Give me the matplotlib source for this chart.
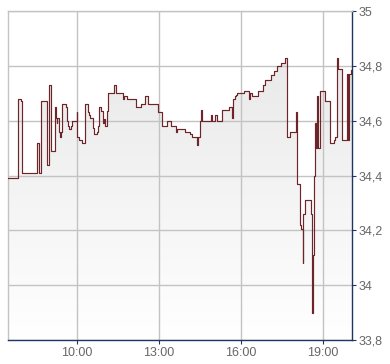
import numpy as np
import matplotlib
matplotlib.use("Agg")
import matplotlib.pyplot as plt
from matplotlib.colors import LinearSegmentedColormap

# ---- data (step series: time "HH:MM", price) ----
times = ["07:28", "07:51", "07:58", "08:00", "08:33", "08:36", "08:41", "08:55", "08:58", "09:03",
         "09:12", "09:14", "09:15", "09:17", "09:21", "09:22", "09:25", "09:27", "09:36", "09:39",
         "09:41", "09:42", "09:47", "09:50", "09:59", "10:01", "10:05", "10:10", "10:18", "10:25",
         "10:26", "10:28", "10:34", "10:37", "10:43", "10:45", "10:48", "10:52", "10:56", "10:59",
         "11:01", "11:05", "11:09", "11:21", "11:26", "11:40", "11:43", "11:50", "12:09", "12:20",
         "12:29", "12:36", "12:57", "13:07", "13:17", "13:26", "13:37", "13:40", "13:57", "14:08",
         "14:13", "14:23", "14:26", "14:29", "14:33", "14:35", "14:53", "14:56", "15:02", "15:08",
         "15:18", "15:34", "15:40", "15:43", "15:46", "15:48", "15:51", "16:07", "16:18", "16:20",
         "16:24", "16:38", "16:48", "16:53", "17:06", "17:12", "17:19", "17:28", "17:36", "17:40",
         "17:47", "18:01", "18:03", "18:09", "18:11", "18:15", "18:17", "18:20", "18:33", "18:35",
         "18:37", "18:39", "18:40", "18:41", "18:42", "18:43", "18:45", "18:47", "18:49", "18:53",
         "19:04", "19:15", "19:24", "19:26", "19:31", "19:33", "19:42", "19:53", "19:55", "19:57",
         "20:01", "20:04"]
prices = [34.39, 34.68, 34.67, 34.41, 34.52, 34.41, 34.67, 34.44, 34.73, 34.49,
          34.65, 34.61, 34.59, 34.61, 34.56, 34.54, 34.56, 34.66, 34.65, 34.60,
          34.58, 34.57, 34.58, 34.60, 34.63, 34.54, 34.53, 34.52, 34.66, 34.63,
          34.62, 34.61, 34.575, 34.55, 34.56, 34.58, 34.65, 34.635, 34.59, 34.605,
          34.58, 34.635, 34.70, 34.73, 34.70, 34.68, 34.69, 34.68, 34.65, 34.66,
          34.69, 34.66, 34.63, 34.58, 34.60, 34.58, 34.56, 34.57, 34.56, 34.55,
          34.54, 34.51, 34.54, 34.60, 34.64, 34.60, 34.62, 34.60, 34.62, 34.60,
          34.64, 34.65, 34.61, 34.68, 34.69, 34.695, 34.70, 34.71, 34.68, 34.70,
          34.69, 34.71, 34.73, 34.75, 34.765, 34.78, 34.80, 34.81, 34.83, 34.54,
          34.56, 34.63, 34.37, 34.22, 34.205, 34.08, 34.26, 34.31, 34.26, 33.90,
          34.015, 34.11, 34.34, 34.40, 34.53, 34.59, 34.50, 34.69, 34.50, 34.71,
          34.67, 34.52, 34.53, 34.54, 34.83, 34.79, 34.53, 34.77, 34.53, 34.77,
          34.785, 34.785]

x_ticks = [10, 13, 16, 19]
x_tick_labels = ["10:00", "13:00", "16:00", "19:00"]
y_ticks = [33.8, 34.0, 34.2, 34.4, 34.6, 34.8, 35.0]
y_tick_labels = ["33,8", "34", "34,2", "34,4", "34,6", "34,8", "35"]

def to_hours(s):
    h, m = s.split(":")
    return int(h) + int(m) / 60.0

t = np.array([to_hours(s) for s in times])
v = np.array(prices)

plt.rcParams['font.family'] = ['Liberation Sans', 'DejaVu Sans']

fig = plt.figure(figsize=(3.9, 3.64), dpi=100)
ax = fig.add_axes([8/390, 24/364, 344/390, 329/364])

xmin, xmax = 7.475, 20.06
ymin, ymax = 33.8, 35.0
ax.set_xlim(xmin, xmax)
ax.set_ylim(ymin, ymax)

# gradient fill under the line
poly = ax.fill_between(t, v, ymin, step='post', facecolor='none', edgecolor='none')
cmap = LinearSegmentedColormap.from_list('g', ['#ffffff', '#e6e6e6'])
grad = np.linspace(0, 1, 256).reshape(-1, 1)
im = ax.imshow(grad, extent=[xmin, xmax, ymin, ymax], aspect='auto', cmap=cmap,
               origin='lower', zorder=1, interpolation='bilinear')
im.set_clip_path(poly.get_paths()[0], transform=ax.transData)

ax.plot(t, v, drawstyle='steps-post', color='#6e2529', lw=0.85, zorder=3)

# grid
ax.set_axisbelow(True)
for xv in x_ticks:
    ax.axvline(xv, color='#c3c3c3', lw=1.0, zorder=2)
for yv in y_ticks:
    ax.axhline(yv, color='#c3c3c3', lw=1.0, zorder=2)

ax.set_xticks(x_ticks)
ax.set_xticklabels(x_tick_labels)
ax.set_yticks(y_ticks)
ax.set_yticklabels(y_tick_labels)
ax.yaxis.tick_right()
ax.tick_params(axis='y', direction='out', length=3, width=0.8, color='#1f3564',
               labelsize=9, labelcolor='#666666', pad=1.5)
ax.tick_params(axis='x', direction='out', length=3, width=0.8, color='#1f3564',
               labelsize=9, labelcolor='#666666', pad=2)

for side in ['left', 'top']:
    ax.spines[side].set_color('#c3c3c3')
    ax.spines[side].set_linewidth(1.0)
for side in ['right', 'bottom']:
    ax.spines[side].set_color('#1f3564')
    ax.spines[side].set_linewidth(1.0)

fig.savefig('out.png', dpi=100)
